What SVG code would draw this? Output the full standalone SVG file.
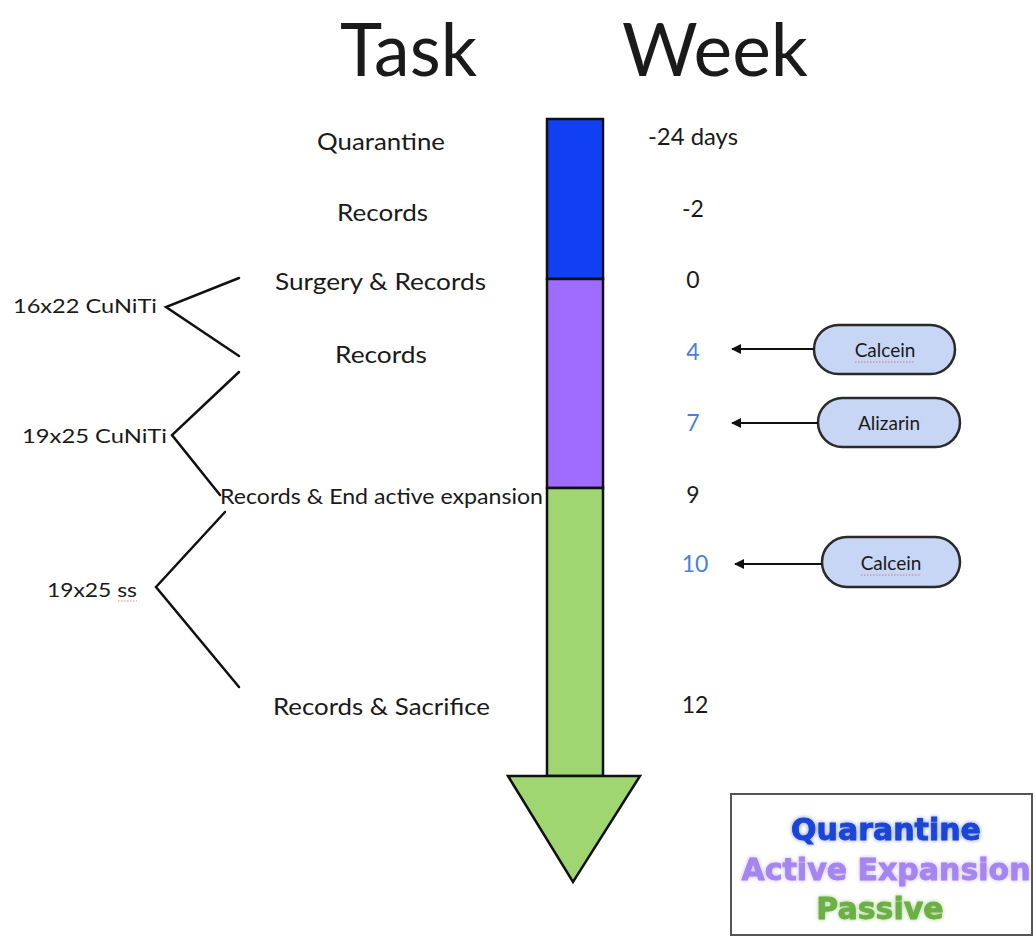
<svg xmlns="http://www.w3.org/2000/svg" width="1036" height="938" viewBox="0 0 1036 938">
  <style>
    .t { font-family: Lato, "Open Sans", "Liberation Sans", sans-serif; fill: #1a1a1a; }
    .title { font-size: 74px; }
    .lbl { font-size: 23px; }
    .sm { font-size: 19px; }
    .wk { font-size: 23px; text-anchor: middle; }
    .blue { fill: #4a80dc; }
    .pill { fill: #c8d6f5; stroke: #2a2a2a; stroke-width: 2.5; }
    .pt { font-size: 19px; text-anchor: middle; }
    .br { fill: none; stroke: #111; stroke-width: 2.5; stroke-linecap: round; stroke-linejoin: miter; }
    .ar { stroke: #111; stroke-width: 2; fill: none; }
    .seg { stroke: #111; stroke-width: 2.5; }
    .sp { stroke: #e05050; stroke-width: 1.2; stroke-dasharray: 1.5 1.5; opacity: 0.7; }
    .lg { font-family: "DejaVu Sans", Verdana, sans-serif; font-weight: bold; font-size: 30px; text-anchor: middle; stroke-width: 0.8; }
  </style>
  <defs>
    <marker id="ah" viewBox="0 0 10 10" refX="9" refY="5" markerWidth="5" markerHeight="5" orient="auto-start-reverse" markerUnits="strokeWidth">
      <path d="M0,0 L10,5 L0,10 z" fill="#111"/>
    </marker>
    <filter id="glow" x="-10%" y="-30%" width="120%" height="160%">
      <feGaussianBlur in="SourceGraphic" stdDeviation="2" result="b"/>
      <feComponentTransfer in="b" result="b2"><feFuncA type="linear" slope="0.6"/></feComponentTransfer>
      <feMerge><feMergeNode in="b2"/><feMergeNode in="SourceGraphic"/></feMerge>
    </filter>
  </defs>

  <rect width="1036" height="938" fill="#ffffff"/>

  <g id="titles">
    <text class="t title" x="340" y="76" textLength="137" lengthAdjust="spacingAndGlyphs">Task</text>
    <text class="t title" x="622" y="76" textLength="186" lengthAdjust="spacingAndGlyphs">Week</text>
  </g>

  <g id="timeline-bar">
    <rect x="547" y="119" width="56" height="160" fill="#1040f2" class="seg"/>
    <rect x="547" y="279" width="56" height="209" fill="#a06cff" class="seg"/>
    <rect x="547" y="488" width="56" height="288" fill="#9fd672" class="seg"/>
    <polygon points="508,776 640,776 573,882" fill="#9fd672" stroke="#111" stroke-width="2.5" stroke-linejoin="miter"/>
  </g>

  <g id="tasks">
    <text class="t lbl" x="317" y="150" textLength="128" lengthAdjust="spacingAndGlyphs">Quarantine</text>
    <text class="t lbl" x="337" y="221" textLength="91" lengthAdjust="spacingAndGlyphs">Records</text>
    <text class="t lbl" x="275" y="290" textLength="211" lengthAdjust="spacingAndGlyphs">Surgery &amp; Records</text>
    <text class="t lbl" x="335" y="363" textLength="92" lengthAdjust="spacingAndGlyphs">Records</text>
    <text class="t sm" x="220" y="504" textLength="323" lengthAdjust="spacingAndGlyphs" style="font-size:21px">Records &amp; End active expansion</text>
    <text class="t lbl" x="273" y="715" textLength="217" lengthAdjust="spacingAndGlyphs">Records &amp; Sacrifice</text>
  </g>

  <g id="wires">
    <text class="t sm" x="13" y="313" textLength="144" lengthAdjust="spacingAndGlyphs">16x22 CuNiTi</text>
    <text class="t sm" x="22" y="443" textLength="145" lengthAdjust="spacingAndGlyphs">19x25 CuNiTi</text>
    <text class="t sm" x="47" y="597" textLength="90" lengthAdjust="spacingAndGlyphs">19x25 ss</text>
    <line class="sp" x1="118" y1="601" x2="137" y2="601"/>
  </g>

  <g id="weeks">
    <text class="t wk" x="693" y="145" textLength="90" lengthAdjust="spacingAndGlyphs">-24 days</text>
    <text class="t wk" x="693" y="217">-2</text>
    <text class="t wk" x="693" y="288">0</text>
    <text class="t wk blue" x="693" y="360">4</text>
    <text class="t wk blue" x="693" y="431">7</text>
    <text class="t wk" x="693" y="503">9</text>
    <text class="t wk blue" x="695" y="572">10</text>
    <text class="t wk" x="695" y="713">12</text>
  </g>

  <g id="pill-calcein-1">
    <rect class="pill" x="814" y="325" width="141" height="49" rx="24.5"/>
    <text class="t pt" x="885" y="357">Calcein</text>
    <line class="sp" x1="855" y1="362" x2="915" y2="362"/>
  </g>
  <g id="pill-alizarin">
    <rect class="pill" x="818" y="398" width="142" height="49" rx="24.5"/>
    <text class="t pt" x="889" y="430">Alizarin</text>
  </g>
  <g id="pill-calcein-2">
    <rect class="pill" x="822" y="537" width="138" height="50" rx="25"/>
    <text class="t pt" x="891" y="570">Calcein</text>
    <line class="sp" x1="861" y1="575" x2="921" y2="575"/>
  </g>

  <g id="connectors">
    <polyline class="br" points="239,278 166,307 239,356"/>
    <polyline class="br" points="239,372 172,435 220,495"/>
    <polyline class="br" points="225,512 156,587 239,687"/>
    <line class="ar" x1="814" y1="349" x2="732" y2="349" marker-end="url(#ah)"/>
    <line class="ar" x1="818" y1="423" x2="732" y2="423" marker-end="url(#ah)"/>
    <line class="ar" x1="822" y1="564" x2="735" y2="564" marker-end="url(#ah)"/>
  </g>

  <g id="legend">
    <rect x="731" y="794" width="301" height="141" fill="#ffffff" stroke="#555" stroke-width="2"/>
    <text class="lg" x="886" y="840" fill="#1a45d8" stroke="#1a45d8" filter="url(#glow)">Quarantine</text>
    <text class="lg" x="886" y="880" fill="#a585f0" stroke="#a585f0" filter="url(#glow)">Active Expansion</text>
    <text class="lg" x="880" y="919" fill="#6cb045" stroke="#6cb045" filter="url(#glow)">Passive</text>
  </g>
</svg>
